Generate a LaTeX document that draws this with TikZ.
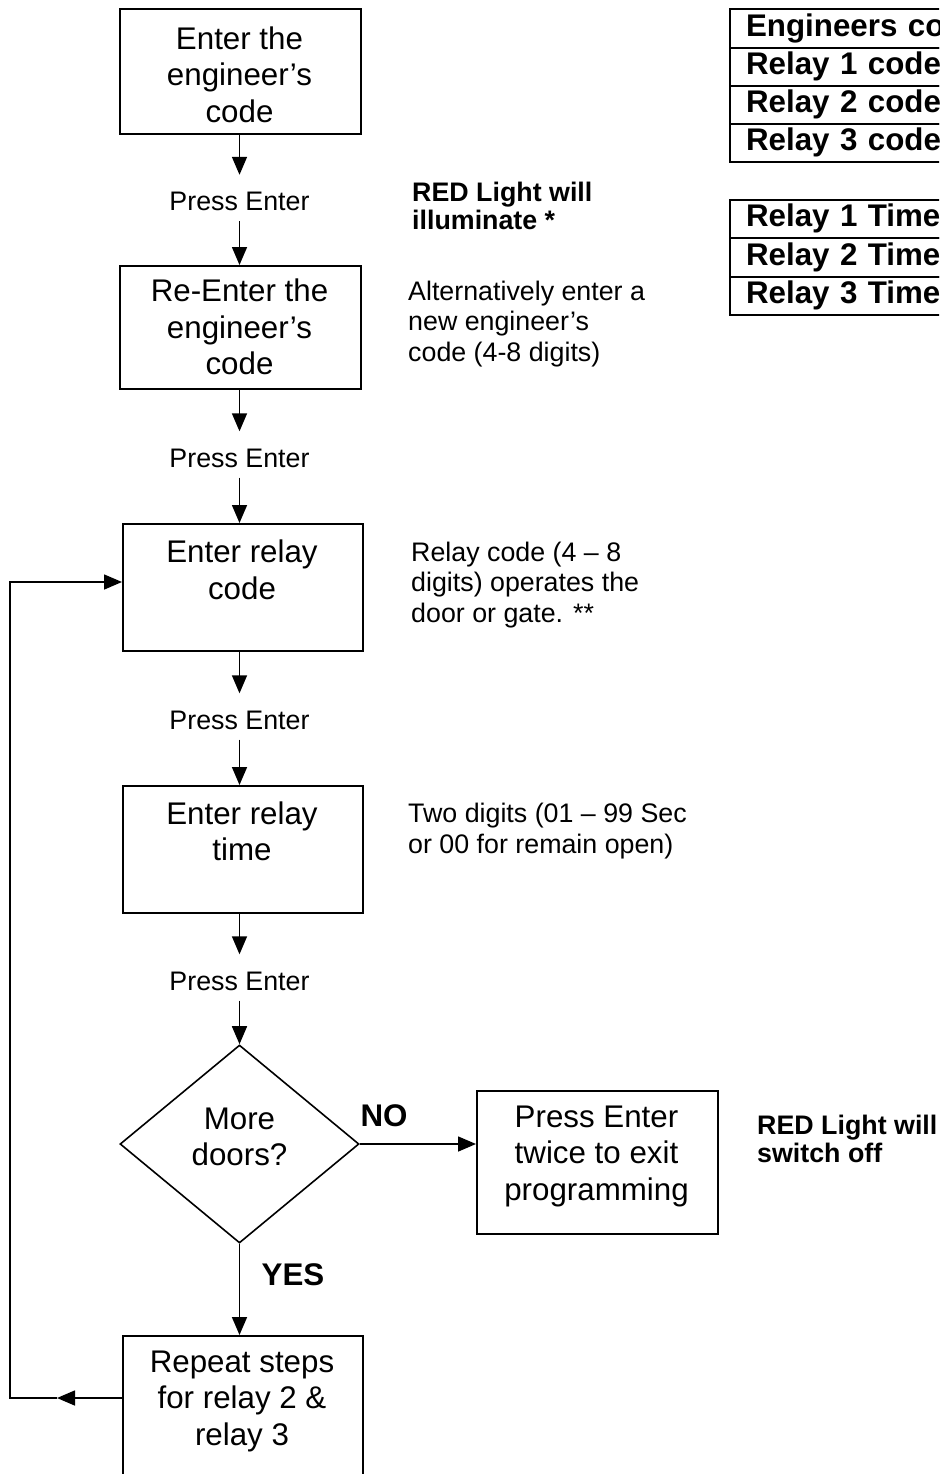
\documentclass[tikz,border=0pt]{standalone}
\usepackage{fontspec}
\setmainfont{Liberation Sans}
\usetikzlibrary{arrows.meta,shapes.geometric}
\newcommand\myBoxFont{\fontsize{31.3pt}{36.5pt}\selectfont}
\newcommand\myNoteFont{\fontsize{26.8pt}{30.5pt}\selectfont}
\newcommand\myBoldNoteFont{\fontsize{26.8pt}{28pt}\selectfont\bfseries}
\begin{document}
\begin{tikzpicture}[x=1pt,y=-1pt,
  box/.style={draw,line width=1.7pt,inner sep=0pt,anchor=north west},
  boxtxt/.style={inner sep=0pt,align=center,font=\myBoxFont},
  presslbl/.style={inner sep=0pt,anchor=base,font=\myNoteFont,text height=36pt,text depth=10pt},
  note/.style={inner sep=0pt,anchor=west,align=left,font=\myNoteFont},
  boldnote/.style={inner sep=0pt,anchor=west,align=left,font=\myBoldNoteFont},
  yn/.style={inner sep=0pt,anchor=base,font=\myBoxFont\bfseries},
  arr/.style={line width=1.6pt,-{Triangle[length=18pt,width=15pt]}},
  cell/.style={draw,line width=2.2pt,anchor=north west,minimum width=300pt,
    text width=268pt,inner xsep=16pt,inner ysep=0pt,align=left,
    font=\myBoxFont\bfseries,text height=22pt,text depth=6.5pt},
]
\useasboundingbox (0,0) rectangle (939,1474);
\fill[white] (0,0) rectangle (939,1474);
\clip (0,0) rectangle (939,1474);

% main boxes
\node[box,minimum width=241pt,minimum height=125pt] (b1) at (119,8) {};
\node[boxtxt] (t1) at (239.5,74.5) {Enter the\\engineer’s\\code};
\node[box,minimum width=241pt,minimum height=123pt] (b2) at (119,265) {};
\node[boxtxt] (t2) at (239.5,327) {Re-Enter the\\engineer’s\\code};
\node[box,minimum width=240pt,minimum height=127pt] (b3) at (122,523) {};
\node[boxtxt] (t3) at (242,570) {Enter relay\\code};
\node[box,minimum width=240pt,minimum height=127pt] (b4) at (122,785) {};
\node[boxtxt] (t4) at (242,831.5) {Enter relay\\time};
\node[draw,line width=1.6pt,diamond,inner sep=0pt,minimum width=239pt,minimum height=198pt] (dia) at (239.5,1144) {};
\node[boxtxt] (td) at (239.5,1137) {More\\doors?};
\node[box,minimum width=241pt,minimum height=143pt] (exit) at (476,1090) {};
\node[boxtxt] (te) at (596.5,1156) {Press Enter\\twice to exit\\programming};
\node[box,minimum width=240pt,minimum height=170pt] (rep) at (122,1335) {};
\node[boxtxt] (tr) at (242,1401) {Repeat steps\\for relay 2 \&\\relay 3};

% press enter labels
\node[presslbl] (pe1) at (239.5,211) {Press Enter};
\node[presslbl] (pe2) at (239.5,467.5) {Press Enter};
\node[presslbl] (pe3) at (239.5,729.5) {Press Enter};
\node[presslbl] (pe4) at (239.5,990.5) {Press Enter};

% connectors
\draw[arr] (b1.south -| pe1) -- (pe1);
\draw[arr] (pe1) -- (b2.north -| pe1);
\draw[arr] (b2.south -| pe2) -- (pe2);
\draw[arr] (pe2) -- (b3.north -| pe2);
\draw[arr] (b3.south -| pe3) -- (pe3);
\draw[arr] (pe3) -- (b4.north -| pe3);
\draw[arr] (b4.south -| pe4) -- (pe4);
\draw[arr] (pe4) -- (dia.north);
\draw[arr] (dia.east) -- (dia.east -| exit.west);
\draw[arr] (dia.south) -- (dia.south |- rep.north);
\coordinate (lmid) at (57,1398);
\coordinate (lbot) at (10,1398);
\coordinate (ltop) at (10,582);
\draw[arr] (rep.west |- lmid) -- (lmid);
\draw[arr] (lmid) -- (lbot) -- (ltop) -- (ltop -| b3.west);

\node[yn] (no) at (384,1126) {NO};
\node[yn] (yes) at (293,1285) {YES};

% notes
\node[boldnote] (n1) at (412,206) {RED Light will\\illuminate *};
\node[note] (n2) at (408,324) {Alternatively enter a\\new engineer’s\\code (4-8 digits)};
\node[note] (n3) at (411,585) {Relay code (4 – 8\\digits) operates the\\door or gate. **};
\node[note] (n4) at (408,831) {Two digits (01 – 99 Sec\\or 00 for remain open)};
\node[boldnote] (n5) at (757,1139) {RED Light will\\switch off};

% tables
\node[cell,minimum height=39pt] (r1) at (729,8) {Engineers code};
\node[cell,minimum height=38pt] (r2) at (729,47) {Relay 1 code};
\node[cell,minimum height=38pt] (r3) at (729,85) {Relay 2 code};
\node[cell,minimum height=38pt] (r4) at (729,123) {Relay 3 code};
\node[cell,minimum height=38pt] (s1) at (729,199) {Relay 1 Time};
\node[cell,minimum height=39pt] (s2) at (729,237) {Relay 2 Time};
\node[cell,minimum height=38pt] (s3) at (729,276) {Relay 3 Time};
\end{tikzpicture}
\end{document}
